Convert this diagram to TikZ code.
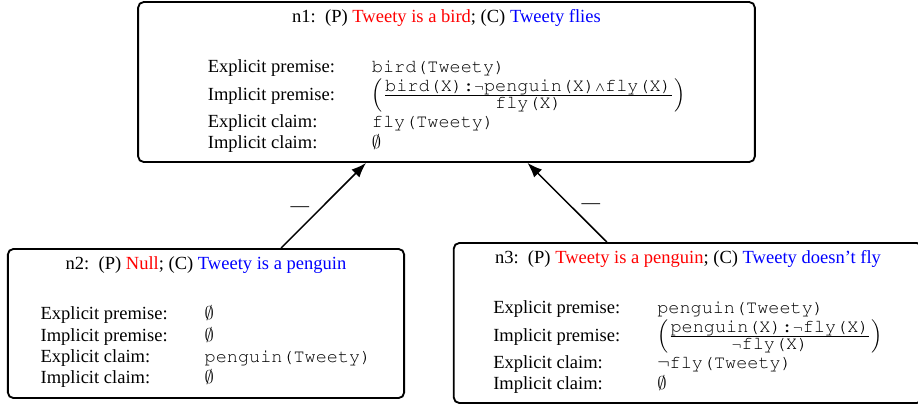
\documentclass[tikz,border=0pt]{standalone}
\usepackage[T1]{fontenc}
\usepackage{fontspec}
\setmainfont{Liberation Serif}
\usetikzlibrary{arrows.meta}
\newcommand{\pred}[1]{\hbox{\fontencoding{T1}\fontfamily{pcr}\selectfont #1}}
\renewcommand{\arraystretch}{0.96}
\begin{document}
\begin{tikzpicture}[x=0.54pt, y=-0.54pt,
    argbox/.style={draw, line width=1pt, rounded corners=3pt, align=center, inner sep=0pt},
    support/.style={-{Latex[length=8pt,width=6pt]}, line width=0.8pt}]
    \useasboundingbox (0,0) rectangle (918,407);

    \node[argbox, minimum width=333pt, minimum height=86.4pt] (n1) at (446.5,82) {%
        n1:\ \ (P) \textcolor{red}{Tweety is a bird}; (C) \textcolor{blue}{Tweety flies}\\[16pt]
        \begin{tabular}{@{}l@{\hspace{20pt}}l@{}}
            Explicit premise: & \pred{bird(Tweety)}\\
            Implicit premise: & $\left(\frac{\pred{bird(X):}\neg\pred{penguin(X)}\wedge\pred{fly(X)}}{\pred{fly(X)}}\right)$\\
            Explicit claim: & \pred{fly(Tweety)}\\
            Implicit claim: & $\emptyset$
        \end{tabular}};

    \node[argbox, minimum width=214pt, minimum height=80.5pt] (n2) at (206,323.5) {%
        n2:\ \ (P) \textcolor{red}{Null}; (C) \textcolor{blue}{Tweety is a penguin}\\[16pt]
        \begin{tabular}{@{}l@{\hspace{20pt}}l@{}}
            Explicit premise: & $\emptyset$\\
            Implicit premise: & $\emptyset$\\
            Explicit claim: & \pred{penguin(Tweety)}\\
            Implicit claim: & $\emptyset$
        \end{tabular}};

    \node[argbox, minimum width=253pt, minimum height=86.4pt] (n3) at (688,323) {%
        n3:\ \ (P) \textcolor{red}{Tweety is a penguin}; (C) \textcolor{blue}{Tweety doesn't fly}\\[16pt]
        \begin{tabular}{@{}l@{\hspace{20pt}}l@{}}
            Explicit premise: & \pred{penguin(Tweety)}\\
            Implicit premise: & $\left(\frac{\pred{penguin(X):}\neg\pred{fly(X)}}{\neg\pred{fly(X)}}\right)$\\
            Explicit claim: & $\neg$\pred{fly(Tweety)}\\
            Implicit claim: & $\emptyset$
        \end{tabular}};

    \draw[support] (n2) -- (n1) node[midway, left=4pt, yshift=-2pt] {---};
    \draw[support] (n3) -- (n1) node[midway, right=4pt, yshift=-2pt] {---};

\end{tikzpicture}
\end{document}
